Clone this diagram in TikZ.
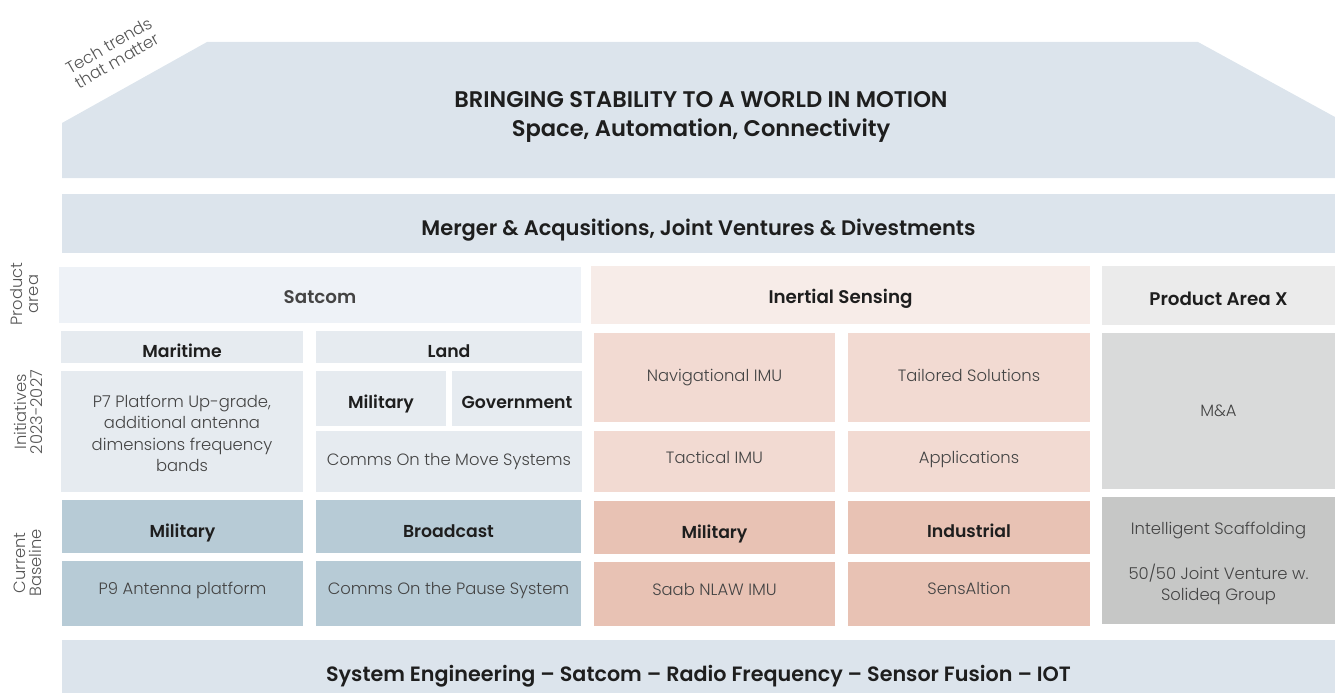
\documentclass[tikz,border=0pt]{standalone}
\usepackage{fontspec}
\setmainfont{Poppins}[BoldFont={Poppins SemiBold}]
\newfontfamily\lightfont{Poppins Light}
\definecolor{roofc}{HTML}{DCE4EC}
\definecolor{satA}{HTML}{EEF2F7}
\definecolor{satB}{HTML}{E6EBF0}
\definecolor{satC}{HTML}{B7CBD6}
\definecolor{inA}{HTML}{F7ECE8}
\definecolor{inB}{HTML}{F2DAD2}
\definecolor{inC}{HTML}{E8C2B4}
\definecolor{pxA}{HTML}{EBEBEB}
\definecolor{pxB}{HTML}{D9DADA}
\definecolor{pxC}{HTML}{C6C7C6}
\definecolor{txtdark}{HTML}{1E1E1E}
\definecolor{txtlight}{HTML}{444444}
\definecolor{txtside}{HTML}{555555}
\tikzset{
  blk/.style={inner sep=0pt, outer sep=0pt, draw=none},
  boldtxt/.style={font=\bfseries\fontsize{17.3}{20}\selectfont, text=txtdark, align=center, inner sep=0pt},
  lighttxt/.style={font=\lightfont\fontsize{16.4}{21.5}\selectfont, text=txtlight, align=center, inner sep=0pt},
  headtxt/.style={font=\bfseries\fontsize{18.3}{20}\selectfont, text=txtdark, align=center, inner sep=0pt},
  sidetxt/.style={font=\lightfont\fontsize{16.3}{16}\selectfont, text=txtside, rotate=90, align=center},
  bigtxt/.style={font=\bfseries\fontsize{21}{29}\selectfont, text=txtdark, align=center, inner sep=0pt},
}
% \blk{name}{x1}{y1}{x2}{y2}{box style}{text style}{text}
\newcommand\blk[8]{\node[blk,#6,minimum width={(#4-#2)*1pt},minimum height={(#5-#3)*1pt},
  label={[#7]center:{#8}}] (#1) at ({(#2+#4)/2},{(#3+#5)/2}) {};}
\begin{document}
\begin{tikzpicture}[x=1pt,y=-1pt]
\useasboundingbox (0,0) rectangle (1335,693);
% roof
\fill[roofc] (62,123) -- (207,42) -- (1198,42) -- (1335,117) -- (1335,178) -- (62,178) -- cycle;
\node[bigtxt, font=\bfseries\fontsize{22.6}{29}\selectfont] (title) at (701,117) {BRINGING STABILITY TO A WORLD IN MOTION\\Space, Automation, Connectivity};
\node[font=\lightfont\fontsize{16.5}{17}\selectfont, text=txtside, rotate=30, align=center] (tech) at (113,53) {Tech trends\\that matter};
% merger bar
\blk{merger}{62}{194}{1335}{253}{fill=roofc}{bigtxt, yshift=-7pt}{Merger \& Acqusitions, Joint Ventures \& Divestments}
% product area row
\blk{satcom}{59}{267}{581}{323}{fill=satA}{headtxt, text=txtlight, yshift=-2pt}{Satcom}
\blk{inertial}{591}{266}{1090}{324}{fill=inA}{headtxt, yshift=-4pt}{Inertial Sensing}
\blk{pax}{1102}{266}{1335}{325}{fill=pxA}{headtxt, yshift=-3pt}{Product Area X}
% satcom initiatives
\blk{maritime}{61}{331}{303}{363}{fill=satB}{boldtxt, yshift=-4pt}{Maritime}
\blk{p7}{61}{371}{303}{492}{fill=satB}{lighttxt, yshift=-2pt}{P7 Platform Up-grade,\\additional antenna\\dimensions frequency\\bands}
\blk{land}{316}{331}{582}{363}{fill=satB}{boldtxt, yshift=-4pt}{Land}
\blk{landmil}{316}{371}{446}{426}{fill=satB}{boldtxt, yshift=-5pt}{Military}
\blk{gov}{452}{371}{582}{426}{fill=satB}{boldtxt, yshift=-4pt}{Government}
\blk{comove}{316}{431}{582}{492}{fill=satB}{lighttxt, yshift=0pt}{Comms On the Move Systems}
% satcom baseline
\blk{smil}{62}{500}{303}{553}{fill=satC}{boldtxt, yshift=-6pt}{Military}
\blk{broad}{316}{500}{581}{553}{fill=satC}{boldtxt, yshift=-5pt}{Broadcast}
\blk{p9}{62}{561}{303}{626}{fill=satC}{lighttxt, yshift=3pt}{P9 Antenna platform}
\blk{copause}{316}{561}{581}{626}{fill=satC}{lighttxt, yshift=3pt}{Comms On the Pause System}
% inertial initiatives
\blk{nav}{594}{333}{835}{422}{fill=inB}{lighttxt, yshift=0pt}{Navigational IMU}
\blk{tail}{848}{333}{1090}{422}{fill=inB}{lighttxt, yshift=2pt}{Tailored Solutions}
\blk{tact}{594}{431}{835}{492}{fill=inB}{lighttxt, yshift=4pt}{Tactical IMU}
\blk{appl}{848}{431}{1090}{492}{fill=inB}{lighttxt, yshift=2pt}{Applications}
% inertial baseline
\blk{imil}{594}{501}{835}{554}{fill=inC}{boldtxt, yshift=-6pt}{Military}
\blk{indus}{848}{501}{1090}{554}{fill=inC}{boldtxt, yshift=-3pt}{Industrial}
\blk{saab}{594}{562}{835}{626}{fill=inC}{lighttxt, yshift=5pt}{Saab NLAW IMU}
\blk{sens}{848}{562}{1090}{626}{fill=inC}{lighttxt, yshift=6pt}{SensAltion}
% product area X
\blk{ma}{1102}{333}{1335}{489}{fill=pxB}{lighttxt}{M\&A}
\blk{intel}{1102}{497}{1335}{624}{fill=pxC}{lighttxt, yshift=-3pt}{Intelligent Scaffolding\\[23pt]50/50 Joint Venture w.\\Solideq Group}
% bottom bar
\blk{bottom}{62}{640}{1335}{693}{fill=roofc}{bigtxt, font=\bfseries\fontsize{20.7}{29}\selectfont, yshift=-10pt}{System Engineering -- Satcom -- Radio Frequency -- Sensor Fusion -- IOT}
% side labels
\node[sidetxt] (lprod) at (25,294) {Product\\area};
\node[sidetxt] (linit) at (28,412) {Initiatives\\2023-2027};
\node[sidetxt] (lbase) at (28,563) {Current\\Baseline};
\end{tikzpicture}
\end{document}
